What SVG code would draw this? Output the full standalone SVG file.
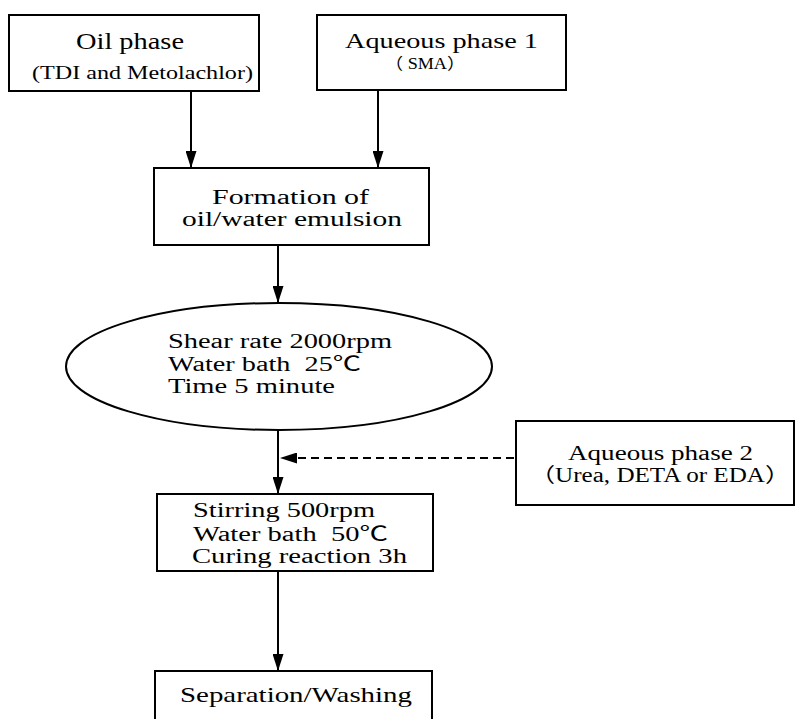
<svg xmlns="http://www.w3.org/2000/svg" width="796" height="719" viewBox="0 0 796 719">
<style>
.box{fill:#fff;stroke:#000;stroke-width:2}
.t{font-family:"Liberation Serif","Times New Roman","Noto Sans CJK SC",serif;fill:#000}
.c{stroke:#000;stroke-width:2;fill:none}
.d{stroke:#000;stroke-width:2;fill:none;stroke-dasharray:8 5}
</style>
<defs>
<marker id="ah" markerUnits="userSpaceOnUse" markerWidth="17" markerHeight="11" viewBox="0 0 17 11" refX="17" refY="5.5" orient="auto">
<path d="M0,0 L17,5.5 L0,11 Z" fill="#000"/>
</marker>
</defs>
<rect width="796" height="719" fill="#fff"/>
<g id="connectors">
<line class="c" x1="191" y1="91" x2="191" y2="168" marker-end="url(#ah)"/>
<line class="c" x1="378" y1="90" x2="378" y2="168" marker-end="url(#ah)"/>
<line class="c" x1="278" y1="245" x2="278" y2="303" marker-end="url(#ah)"/>
<line class="c" x1="278" y1="430" x2="278" y2="494" marker-end="url(#ah)"/>
<line class="d" x1="514" y1="458" x2="280" y2="458" marker-end="url(#ah)"/>
<line class="c" x1="278" y1="571" x2="278" y2="671" marker-end="url(#ah)"/>
</g>
<g id="oil">
<rect class="box" x="9" y="15" width="250" height="76"/>
<text class="t" x="76" y="49" font-size="24" textLength="108" lengthAdjust="spacingAndGlyphs">Oil phase</text>
<text class="t" x="32" y="79" font-size="19" textLength="221" lengthAdjust="spacingAndGlyphs">(TDI and Metolachlor)</text>
</g>
<g id="aqueous1">
<rect class="box" x="317" y="15" width="249" height="75"/>
<text class="t" x="345" y="48" font-size="21" textLength="193" lengthAdjust="spacingAndGlyphs">Aqueous phase 1</text>
<text class="t" x="385" y="69" font-size="16" textLength="80" lengthAdjust="spacingAndGlyphs">（ SMA）</text>
</g>
<g id="formation">
<rect class="box" x="154" y="168" width="275" height="77"/>
<text class="t" x="212" y="204" font-size="20" textLength="157" lengthAdjust="spacingAndGlyphs">Formation of</text>
<text class="t" x="182" y="226" font-size="20" textLength="220" lengthAdjust="spacingAndGlyphs">oil/water emulsion</text>
</g>
<g id="shear">
<ellipse class="box" cx="279" cy="366.5" rx="213" ry="63.5"/>
<text class="t" x="168" y="348" font-size="20" textLength="224" lengthAdjust="spacingAndGlyphs">Shear rate 2000rpm</text>
<text class="t" x="168" y="371" font-size="20" textLength="193" lengthAdjust="spacingAndGlyphs" xml:space="preserve">Water bath  25℃</text>
<text class="t" x="168" y="393" font-size="20" textLength="167" lengthAdjust="spacingAndGlyphs">Time 5 minute</text>
</g>
<g id="aqueous2">
<rect class="box" x="516" y="421" width="278" height="84"/>
<text class="t" x="568" y="460" font-size="20" textLength="185" lengthAdjust="spacingAndGlyphs">Aqueous phase 2</text>
<text class="t" x="530" y="482" font-size="20" textLength="260" lengthAdjust="spacingAndGlyphs">（Urea, DETA or EDA）</text>
</g>
<g id="stirring">
<rect class="box" x="157" y="494" width="276" height="77"/>
<text class="t" x="193" y="517" font-size="20" textLength="182" lengthAdjust="spacingAndGlyphs">Stirring 500rpm</text>
<text class="t" x="193" y="541" font-size="20" textLength="195" lengthAdjust="spacingAndGlyphs" xml:space="preserve">Water bath  50℃</text>
<text class="t" x="192" y="563" font-size="20" textLength="215" lengthAdjust="spacingAndGlyphs">Curing reaction 3h</text>
</g>
<g id="separation">
<rect class="box" x="155" y="671" width="277" height="60"/>
<text class="t" x="180" y="702" font-size="21" textLength="232" lengthAdjust="spacingAndGlyphs">Separation/Washing</text>
</g>
</svg>
